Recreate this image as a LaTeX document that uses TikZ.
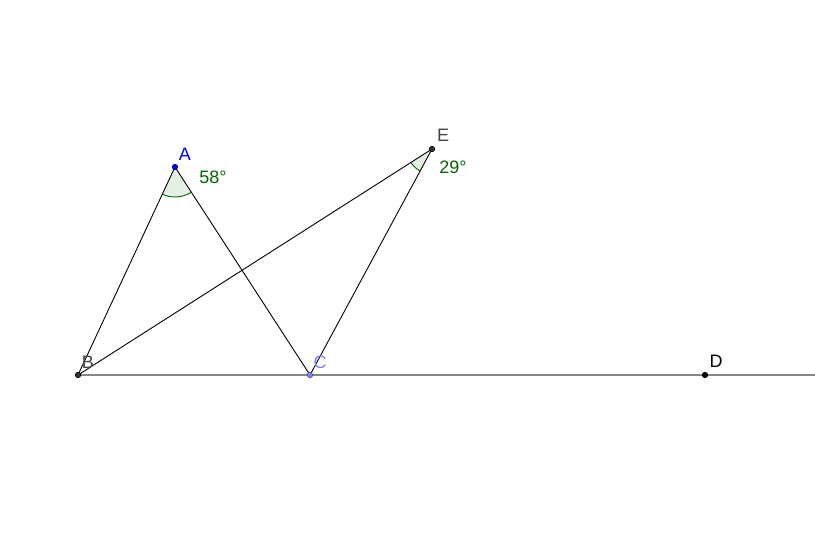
\documentclass[tikz,border=0pt]{standalone}
\usepackage{fontspec}
\setmainfont{Liberation Sans}
\usetikzlibrary{calc}
\definecolor{angfill}{RGB}{228,238,228}
\definecolor{anggreen}{RGB}{0,100,0}
\definecolor{ptgray}{RGB}{51,51,51}
\definecolor{labgray}{RGB}{68,68,68}
\definecolor{clab}{RGB}{128,128,255}
\tikzset{
  seg/.style={draw=black,line width=0.9pt},
  raystyle/.style={draw=gray!95,line width=1.6pt},
  pt/.style={circle,inner sep=0pt,minimum size=5.5pt,line width=0.6pt},
  lab/.style={font=\fontsize{18}{18}\selectfont,inner sep=0pt},
  anglab/.style={font=\fontsize{18}{18}\selectfont,text=anggreen,inner sep=0pt},
  angsec/.style={fill=angfill,draw=none},
  angarc/.style={draw=anggreen,line width=0.9pt}
}
\begin{document}
\begin{tikzpicture}[x=1pt,y=-1pt]
\useasboundingbox (0,0) rectangle (815,550);
\coordinate (A) at (175,167);
\coordinate (B) at (78,375);
\coordinate (C) at (310,375);
\coordinate (D) at (705,375);
\coordinate (E) at (432,149);
\coordinate (R) at (815,375);
% angle sectors
\fill[angsec] (A) -- ($(A)!30pt!(B)$) arc[start angle=115.0,end angle=57.0,radius=30] -- cycle;
\fill[angsec] (E) -- ($(E)!25pt!(B)$) arc[start angle=147.45,end angle=118.36,radius=25] -- cycle;
\draw[angarc] ($(A)!30pt!(B)$) arc[start angle=115.0,end angle=57.0,radius=30];
\draw[angarc] ($(E)!25pt!(B)$) arc[start angle=147.45,end angle=118.36,radius=25];
% lines
\draw[raystyle] (B) -- (R);
\draw[seg] (A) -- (B);
\draw[seg] (A) -- (C);
\draw[seg] (E) -- (B);
\draw[seg] (E) -- (C);
% points
\node[pt,fill=blue,draw=blue!60!black] (pA) at (A) {};
\node[pt,fill=ptgray,draw=black] (pB) at (B) {};
\node[pt,fill=clab,draw=clab!60!black] (pC) at (C) {};
\node[pt,fill=black,draw=black] (pD) at (D) {};
\node[pt,fill=ptgray,draw=black] (pE) at (E) {};
% labels
\node[lab,text=blue] (lA) at (185,154) {A};
\node[lab,text=labgray] (lB) at (88,362) {B};
\node[lab,text=clab] (lC) at (320,362) {C};
\node[lab,text=black] (lD) at (716,361) {D};
\node[lab,text=labgray] (lE) at (443,135) {E};
\node[anglab] (a1) at (213,177) {58°};
\node[anglab] (a2) at (453,167) {29°};
\end{tikzpicture}
\end{document}
